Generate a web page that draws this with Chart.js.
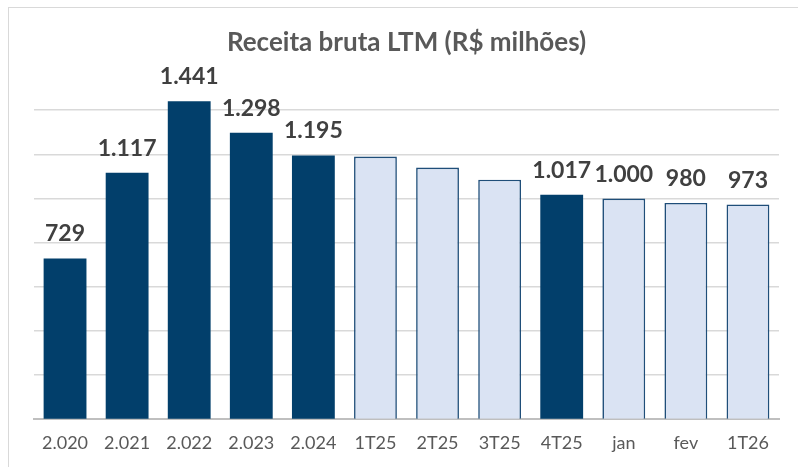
<!DOCTYPE html>
<html>
<head>
<meta charset="utf-8">
<script src="https://cdn.jsdelivr.net/npm/chart.js@4.4.1/dist/chart.umd.min.js"></script>
<style>
  html, body { margin: 0; padding: 0; background: #fff; }
  #wrap { position: relative; width: 798px; height: 467px; }
  #frame { position: absolute; left: 8px; top: 7px; width: 820px; height: 500px; border: 1px solid #d9d9d9; }
  canvas { position: absolute; left: 0; top: 0; }
</style>
</head>
<body>
<div id="wrap">
  <div id="frame"></div>
  <canvas id="barChart" width="798" height="467"></canvas>
</div>
<script>
    // values (R$ milhões)
    var periods = ['2.020', '2.021', '2.022', '2.023', '2.024', '1T25', '2T25', '3T25', '4T25', 'jan', 'fev', '1T26'];
    var receita = [729, 1117, 1441, 1298, 1195, 1190, 1140, 1085, 1017, 1000, 980, 973];
    var valueLabels = ['729', '1.117', '1.441', '1.298', '1.195', '', '', '', '1.017', '1.000', '980', '973'];
    var fullYear = [true, true, true, true, true, false, false, false, true, false, false, false];

    var dark = '#023f6b';
    var light = '#dae3f3';

    var labelPlugin = {
        id: 'valueLabels',
        afterDatasetsDraw: function (chart) {
            var ctx = chart.ctx;
            var meta = chart.getDatasetMeta(0);
            ctx.save();
            ctx.font = 'bold 23px Lato';
            ctx.fillStyle = '#404040';
            ctx.textAlign = 'center';
            ctx.textBaseline = 'alphabetic';
            meta.data.forEach(function (bar, i) {
                if (valueLabels[i]) ctx.fillText(valueLabels[i], bar.x, bar.y - 17);
            });
            ctx.restore();
        }
    };

    var ctx = document.getElementById('barChart').getContext('2d');
    var myChart = new Chart(ctx, {
        type: 'bar',
        data: {
            labels: periods,
            datasets: [{
                label: 'Receita bruta LTM',
                data: receita,
                clip: false,
                backgroundColor: fullYear.map(function (f) { return f ? dark : light; }),
                borderColor: fullYear.map(function (f) { return f ? dark : '#1f4e79'; }),
                borderWidth: fullYear.map(function (f) { return f ? 0 : 1.6; }),
                categoryPercentage: 1,
                barPercentage: 0.69
            }]
        },
        options: {
            responsive: false,
            animation: false,
            layout: { padding: { left: 34, right: 19, top: 0, bottom: 0 } },
            plugins: {
                legend: { display: false },
                tooltip: { enabled: false },
                title: {
                    display: true,
                    text: 'Receita bruta LTM (R$ milhões)',
                    color: '#595959',
                    font: { family: 'Lato', size: 26, weight: 'bold' },
                    padding: { top: 27, bottom: 52 }
                }
            },
            scales: {
                x: {
                    grid: { display: false, drawTicks: false },
                    border: { display: true, color: '#bfbfbf', width: 2 },
                    ticks: {
                        color: '#595959',
                        font: { family: 'Lato', size: 18 },
                        padding: 13,
                        maxRotation: 0
                    }
                },
                y: {
                    min: 0,
                    max: 1400,
                    ticks: { display: false, stepSize: 200 },
                    border: { display: false },
                    grid: {
                        drawTicks: false,
                        color: function (c) { return c.tick.value === 0 ? 'rgba(0,0,0,0)' : '#d9d9d9'; },
                        lineWidth: 1.5
                    }
                }
            }
        },
        plugins: [labelPlugin]
    });
</script>
</body>
</html>
